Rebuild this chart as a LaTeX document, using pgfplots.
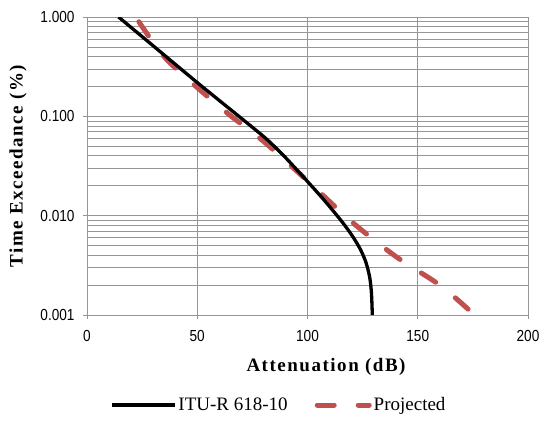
\documentclass[border=0pt]{standalone}
\usepackage{pgfplots}
\pgfplotsset{compat=1.18}
\usepackage{fontspec}
\setmainfont{Liberation Serif}
\newfontfamily\tickfont[FakeStretch=0.85]{Liberation Sans}
\newfontfamily\labfont[LetterSpace=8]{Liberation Serif}
\definecolor{projred}{RGB}{192,80,77}
\definecolor{gridgray}{RGB}{150,150,150}
\begin{document}
\begin{tikzpicture}
\useasboundingbox (-87bp,-112bp) rectangle (452bp,315bp);
\begin{axis}[
  at={(0,0)}, anchor=south west,
  scale only axis, width=441bp, height=298bp,
  xmin=0, xmax=200, ymode=log, ymin=0.001, ymax=1,
  xtick={0,50,100,150,200}, xticklabels={0,50,100,150,200},
  ytick={0.001,0.01,0.1,1}, yticklabels={0.001,0.010,0.100,1.000},
  minor ytick={0.002,0.003,0.004,0.005,0.006,0.007,0.008,0.009,0.02,0.03,0.04,0.05,0.06,0.07,0.08,0.09,0.2,0.3,0.4,0.5,0.6,0.7,0.8,0.9},
  xmajorgrids, ymajorgrids, yminorgrids,
  major grid style={gridgray, line width=0.75bp},
  minor grid style={gridgray, line width=0.75bp},
  axis line style={gridgray, line width=0.75bp},
  tick pos=left, tick align=outside, major tick length=4bp, minor tick length=0pt,
  tick style={gridgray, line width=0.75bp},
  ticklabel style={font=\tickfont\fontsize{16bp}{18bp}\selectfont, text=black},
  yticklabel style={xshift=-5bp},
  xticklabel style={yshift=-7.5bp},
  xlabel={Attenuation (dB)}, ylabel={Time Exceedance (\%)},
  label style={font=\labfont\bfseries\fontsize{19bp}{22bp}\selectfont},
  xlabel style={at={(axis description cs:0.542,-0.1745)}, anchor=center},
  ylabel style={at={(axis description cs:-0.1565,0.5)}, anchor=center},
  legend columns=2,
  legend style={draw=none, fill=none, at={(axis description cs:0.435,-0.302)}, anchor=center,
    font=\fontsize{19bp}{22bp}\selectfont,
    /tikz/every even column/.append style={column sep=25bp}},
]
\addlegendimage{legend image code/.code={\draw[black, line width=3.3bp] (0bp,0bp) -- (63bp,0bp);}}
\addlegendentry{ITU-R 618-10}
\addlegendimage{legend image code/.code={\draw[projred, line width=5bp, line cap=round, dash pattern=on 17bp off 24bp] (0bp,0bp) -- (52bp,0bp);}}
\addlegendentry{Projected}
\addplot[projred, line width=5bp, line cap=round, dash pattern=on 17bp off 25.2bp, smooth, forget plot] coordinates {
(23.5,0.897) (35,0.398) (50,0.195) (65,0.102) (80,0.0562) (100,0.0224) (120,0.0087) (140,0.00389) (160,0.0020) (173.7,0.0011)
};
\addplot[black, line width=3.3bp, smooth, forget plot] coordinates {
(14.3,1.0) (30,0.513) (50,0.2188) (65,0.1175) (75,0.0776) (82,0.0575) (90,0.0385) (100.4,0.0216) (107,0.0148) (112.5,0.0106) (117,0.00794) (120.8,0.00603) (124,0.00457) (126.5,0.00339) (128.2,0.0024) (129.0,0.00166) (129.4,0.001)
};
\end{axis}
\end{tikzpicture}
\end{document}
